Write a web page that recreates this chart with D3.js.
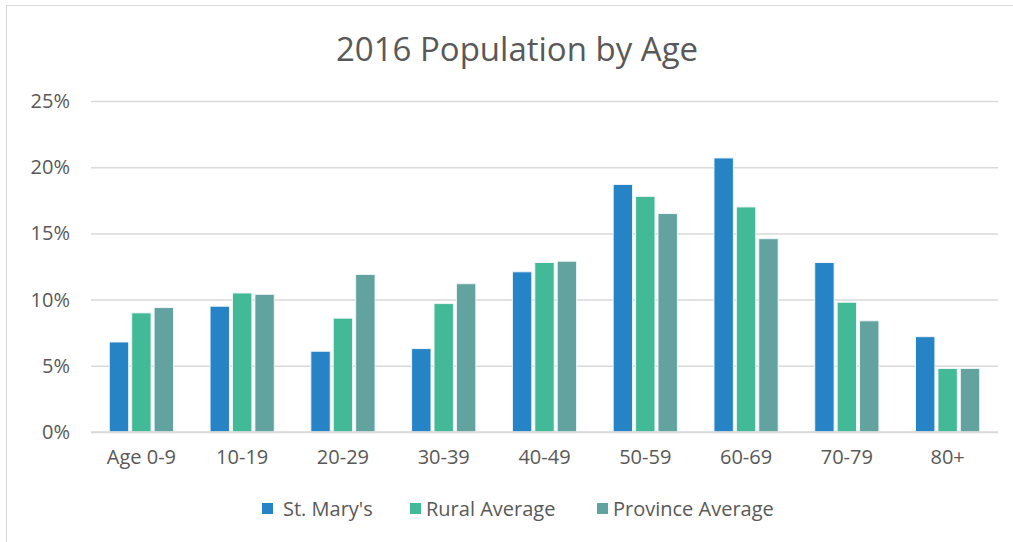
<!DOCTYPE html>
<html>
<head>
<meta charset="utf-8">
<script src="https://cdn.jsdelivr.net/npm/d3@7"></script>
<style>
  body { margin: 0; background: #fff; }
  text { font-family: "Century Gothic", "Open Sans", sans-serif; fill: #595959; }
</style>
</head>
<body>
<div id="chart"></div>
<script>
// data
var ageGroups = ['Age 0-9', '10-19', '20-29', '30-39', '40-49', '50-59', '60-69', '70-79', '80+'];
var seriesNames = ["St. Mary's", 'Rural Average', 'Province Average'];
var stMarys = [6.8, 9.5, 6.1, 6.3, 12.1, 18.7, 20.7, 12.8, 7.2];
var ruralAvg = [9.0, 10.5, 8.6, 9.7, 12.8, 17.8, 17.0, 9.8, 4.8];
var provinceAvg = [9.4, 10.4, 11.9, 11.2, 12.9, 16.5, 14.6, 8.4, 4.8];
var yTicks = [0, 5, 10, 15, 20, 25];
var colors = ['#2683C6', '#42BA97', '#62A39F'];

var w = 1013, h = 542;
var margin = {top: 101, right: 15, bottom: 110, left: 91};

var svg = d3.select('div#chart').append('svg')
            .attr('width', w)
            .attr('height', h);

// chart border
svg.append('rect')
   .attr('x', 6.5).attr('y', 5.5)
   .attr('width', w - 6).attr('height', h)
   .attr('fill', 'none')
   .attr('stroke', '#d9d9d9');

var x = d3.scaleBand()
          .domain(ageGroups)
          .range([margin.left, w - margin.right])
          .paddingInner(0.333)
          .paddingOuter(0.1665);

var xSeries = d3.scaleBand()
                .domain(seriesNames)
                .range([0, x.bandwidth()]);

var y = d3.scaleLinear()
          .domain([0, 25])
          .range([h - margin.bottom, margin.top]);

//gridlines
var yAxis = svg.append('g')
               .attr('transform', 'translate(' + margin.left + ',0)')
               .call(d3.axisLeft(y)
                       .tickValues(yTicks)
                       .tickSize(-(w - margin.left - margin.right))
                       .tickPadding(21)
                       .tickFormat(function(d){ return d + '%'; }));
yAxis.select('.domain').remove();
yAxis.selectAll('line').attr('stroke', '#d9d9d9').attr('stroke-width', 1.5);
yAxis.selectAll('text').style('font-size', '20px').attr('fill', '#595959');

// bars
var table = ageGroups.map(function(g, i){
  return {group: g, values: [stMarys[i], ruralAvg[i], provinceAvg[i]]};
});

var groups = svg.selectAll('g.group').data(table)
                .enter()
                .append('g')
                .attr('class', 'group')
                .attr('transform', function(d){ return 'translate(' + x(d.group) + ',0)'; });

groups.selectAll('rect')
      .data(function(d){ return d.values.map(function(v, j){ return {name: seriesNames[j], v: v, j: j}; }); })
      .enter()
      .append('rect')
      .attr('x', function(d){ return xSeries(d.name) + 1.5; })
      .attr('width', xSeries.bandwidth() - 3)
      .attr('y', function(d){ return y(d.v); })
      .attr('height', function(d){ return y(0) - y(d.v); })
      .attr('fill', function(d){ return colors[d.j]; })
      .attr('stroke', '#eef6f8')
      .attr('stroke-width', 1);

// x labels
var xAxis = svg.append('g')
               .attr('transform', 'translate(0,' + y(0) + ')')
               .call(d3.axisBottom(x).tickSize(0).tickPadding(18));
xAxis.select('.domain').remove();
xAxis.selectAll('text').style('font-size', '20px').attr('fill', '#595959');

// baseline
svg.append('line')
   .attr('x1', margin.left).attr('x2', w - margin.right)
   .attr('y1', y(0)).attr('y2', y(0))
   .attr('stroke', '#d9d9d9').attr('stroke-width', 1.5);

// title
svg.append('text')
   .attr('x', 517).attr('y', 61)
   .attr('text-anchor', 'middle')
   .style('font-size', '33px')
   .text('2016 Population by Age');

// legend
var legendX = [262, 410, 597];
var legend = svg.selectAll('g.legend').data(seriesNames)
                .enter()
                .append('g')
                .attr('class', 'legend')
                .attr('transform', function(d, i){ return 'translate(' + legendX[i] + ',503)'; });

legend.append('rect')
      .attr('width', 11).attr('height', 11)
      .attr('fill', function(d, i){ return colors[i]; });

legend.append('text')
      .attr('x', function(d, i){ return i === 0 ? 21 : 16; })
      .attr('y', 13)
      .style('font-size', '20px')
      .text(function(d){ return d; });
</script>
</body>
</html>
